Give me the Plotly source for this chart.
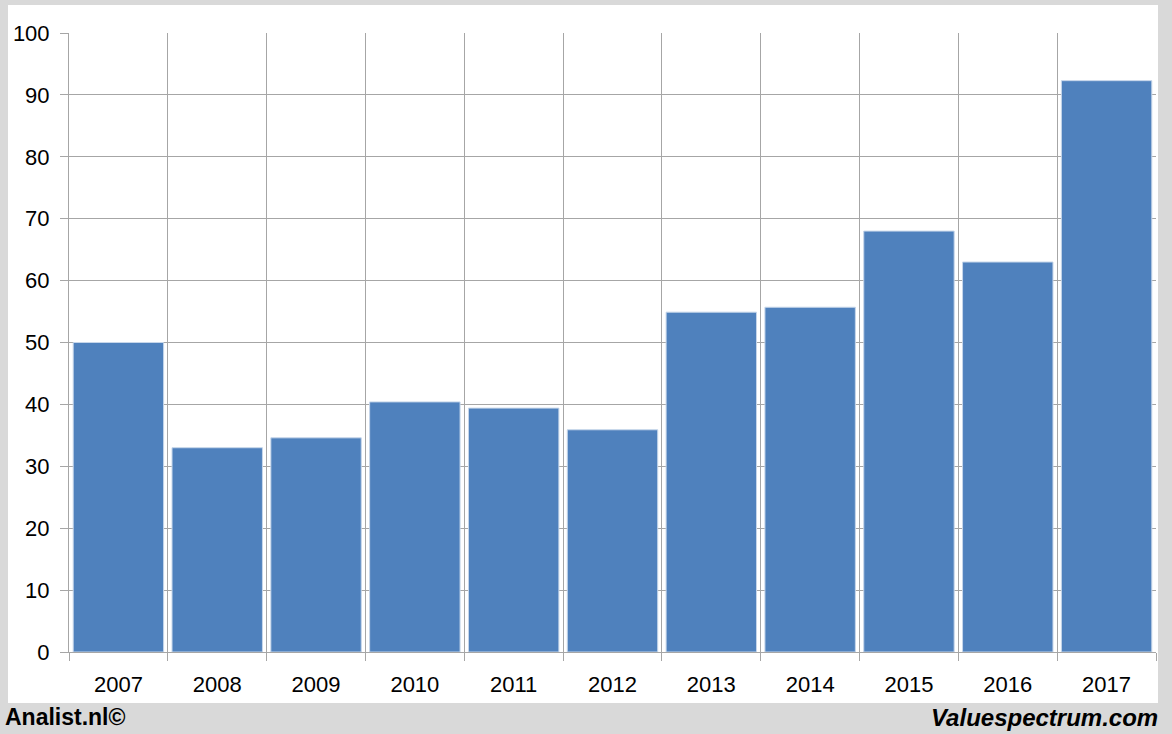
import plotly.graph_objects as go

years = ["2007", "2008", "2009", "2010", "2011", "2012", "2013", "2014", "2015", "2016", "2017"]
values = [50.0, 33.0, 34.6, 40.4, 39.4, 35.9, 54.9, 55.7, 68.0, 63.0, 92.3]
y_ticks = [0, 10, 20, 30, 40, 50, 60, 70, 80, 90, 100]

W, H = 1172, 734
L, R, T, B = 69, 16, 33, 82
pw, ph = W - L - R, H - T - B

def px_x(p):
    return (p - L) / pw

def px_y(p):
    return (H - B - p) / ph

fig = go.Figure()
fig.add_trace(go.Bar(
    x=years, y=values,
    marker=dict(color="#4f81bd", line=dict(color="#c6d6ea", width=1)),
    hoverinfo="x+y",
))

fig.add_shape(type="rect", xref="paper", yref="paper",
              x0=px_x(8), x1=px_x(1158), y0=px_y(703), y1=px_y(5),
              fillcolor="white", line=dict(width=0), layer="below")

font_family = "Liberation Sans, Arial, sans-serif"
fig.add_annotation(text="<b>Analist.nl©</b>", xref="paper", yref="paper",
                   x=px_x(3), y=px_y(717), xanchor="left", yanchor="middle",
                   showarrow=False, font=dict(family=font_family, size=23, color="black"))
fig.add_annotation(text="<b><i>Valuespectrum.com</i></b>", xref="paper", yref="paper",
                   x=px_x(1160), y=px_y(717), xanchor="right", yanchor="middle",
                   showarrow=False, font=dict(family=font_family, size=24, color="black"))

fig.update_layout(
    width=W, height=H,
    margin=dict(l=L, r=R, t=T, b=B, pad=0),
    paper_bgcolor="#d9d9d9",
    plot_bgcolor="white",
    bargap=0.085,
    showlegend=False,
    font=dict(family=font_family, size=22, color="black"),
    xaxis=dict(
        type="category",
        tickson="boundaries",
        showgrid=True, gridcolor="#a6a6a6", gridwidth=1,
        ticks="outside", ticklen=8, tickcolor="#a6a6a6",
        showline=True, linecolor="#a6a6a6", linewidth=1,
        range=[-0.5, 10.5],
        tickfont=dict(size=22),
        ticklabelstandoff=13,
    ),
    yaxis=dict(
        range=[0, 100],
        tickvals=y_ticks,
        showgrid=True, gridcolor="#a6a6a6", gridwidth=1,
        ticks="outside", ticklen=8, tickcolor="#a6a6a6",
        showline=True, linecolor="#a6a6a6", linewidth=1,
        zeroline=False,
        tickfont=dict(size=22),
        ticklabelstandoff=6,
    ),
)

fig.write_html("out.html", config={"displayModeBar": False},
               post_script="document.body.style.margin='0px';")
